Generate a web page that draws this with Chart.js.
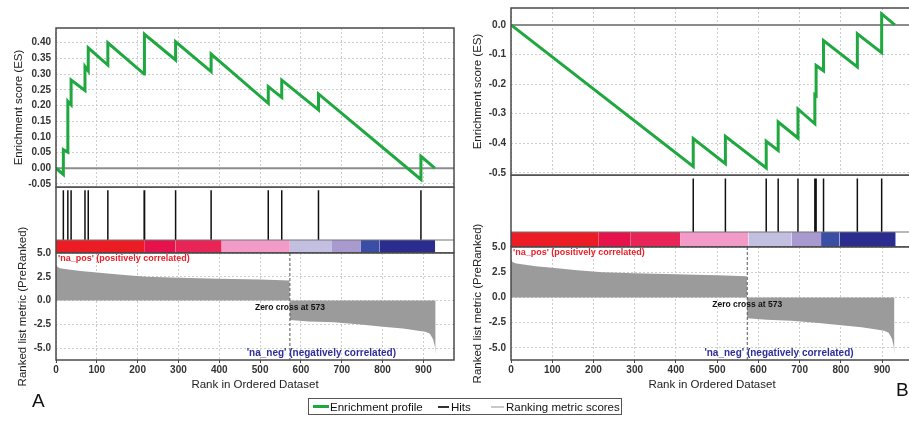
<!DOCTYPE html>
<html>
<head>
<meta charset="utf-8">
<script src="https://cdn.jsdelivr.net/npm/chart.js@4.4.1/dist/chart.umd.min.js"></script>
<style>
  body { margin: 0; background: #fff; overflow: hidden; }
  #page { position: relative; width: 909px; height: 422px; overflow: hidden; font-family: "Liberation Sans", Arial, sans-serif; color: #111; }
  .box { position: absolute; }
  .lbl { position: absolute; font-size: 19px; }
  #legend { position: absolute; left: 308px; top: 398px; width: 314px; height: 17px; border: 1px solid #555; box-sizing: border-box; font-size: 11.5px; white-space: nowrap; }
  #legend span { position: absolute; top: 1px; line-height: 14px; }
  #legend i { position: absolute; top: 7px; height: 2px; }
</style>
</head>
<body>
<div id="page">
  <div class="box" style="left:6px;top:26px;width:450px;height:169px"><canvas id="esA"></canvas></div>
  <div class="box" style="left:6px;top:187px;width:450px;height:66px"><canvas id="hitsA"></canvas></div>
  <div class="box" style="left:6px;top:213px;width:450px;height:182px"><canvas id="metA"></canvas></div>

  <div class="box" style="left:461px;top:6px;width:454px;height:177px"><canvas id="esB"></canvas></div>
  <div class="box" style="left:461px;top:175px;width:454px;height:72px"><canvas id="hitsB"></canvas></div>
  <div class="box" style="left:461px;top:207px;width:454px;height:188px"><canvas id="metB"></canvas></div>

  <div class="lbl" style="left:32px;top:390px">A</div>
  <div class="lbl" style="left:896px;top:379px">B</div>

  <div id="legend">
    <i style="left:4px;width:16px;height:3px;top:6px;background:#1fa83f"></i><span style="left:21px">Enrichment profile</span>
    <i style="left:129px;width:11px;background:#333"></i><span style="left:142px">Hits</span>
    <i style="left:182px;width:13px;background:#c8c8c8"></i><span style="left:197px">Ranking metric scores</span>
  </div>
</div>

<script>
// panel A enrichment profile (rank, ES)
const esRankA = [0, 18, 18, 29, 29, 37, 37, 71, 71, 79, 79, 127, 127, 216, 216, 217, 217, 293, 293, 380, 380, 520, 520, 553, 553, 643, 643, 894, 894, 928];
const esValA = [0, -0.02, 0.059, 0.051, 0.213, 0.202, 0.281, 0.248, 0.324, 0.31, 0.384, 0.329, 0.40, 0.30, 0.361, 0.358, 0.427, 0.345, 0.403, 0.308, 0.364, 0.207, 0.26, 0.226, 0.281, 0.186, 0.237, -0.036, 0.038, 0];
const hitsA = [18, 29, 37, 71, 79, 127, 216, 217, 293, 380, 520, 553, 643, 894];

// panel B enrichment profile (rank, ES)
const esRankB = [0, 442, 442, 520, 520, 619, 619, 648, 648, 696, 696, 737, 737, 740, 740, 758, 758, 840, 840, 899, 899, 931];
const esValB = [0, -0.478, -0.384, -0.469, -0.376, -0.483, -0.393, -0.424, -0.328, -0.382, -0.284, -0.334, -0.236, -0.239, -0.137, -0.155, -0.053, -0.142, -0.03, -0.094, 0.037, 0];
const hitsB = [442, 520, 619, 648, 696, 737, 740, 758, 840, 899];

// colour bar segments (rank edges) and colours
const segA = [0, 216, 293, 406, 573, 676, 747, 792, 929];
const segB = [0, 213, 289, 410, 576, 681, 752, 797, 933];
const segColors = ["#ec1c24", "#e5124c", "#e92557", "#f29bc8", "#c3bfe1", "#a899cf", "#3a4ea6", "#2b2d8e"];

// ranked list metric (same ranked list in both panels)
const metricRank = [0, 3, 10, 26, 60, 100, 160, 222, 300, 400, 500, 572, 573, 620, 680, 740, 801, 850, 883, 905, 916, 924, 928, 930];
const metricVal = [3.75, 3.55, 3.4, 3.3, 3.1, 2.95, 2.7, 2.5, 2.4, 2.3, 2.2, 2.1, -2.05, -2.2, -2.3, -2.5, -2.75, -2.95, -3.15, -3.3, -3.5, -4.1, -4.8, -5.7];
const zeroCross = 573;

const xTicks = [0, 100, 200, 300, 400, 500, 600, 700, 800, 900];
const esTicksA = [-0.05, 0, 0.05, 0.1, 0.15, 0.2, 0.25, 0.3, 0.35, 0.4];
const esTicksB = [-0.5, -0.4, -0.3, -0.2, -0.1, 0];
const metricTicks = [-5, -2.5, 0, 2.5, 5];

const XMAX = 975;
const AXIS_W = 50;
const FONT = "'Liberation Sans', Arial, sans-serif";

Chart.defaults.font.family = FONT;
Chart.defaults.color = "#222";
Chart.defaults.animation = false;

const decor = {
    id: "decor",
    beforeDatasetsDraw(chart, args, o) {
        const { ctx, chartArea: a, scales } = chart;
        if (o.zeroLine) {
            const y = scales.y.getPixelForValue(0);
            ctx.save();
            ctx.strokeStyle = "#8c8c8c";
            ctx.lineWidth = 2;
            ctx.beginPath();
            ctx.moveTo(a.left, y);
            ctx.lineTo(a.right, y);
            ctx.stroke();
            ctx.restore();
        }
    },
    afterDraw(chart, args, o) {
        const { ctx, chartArea: a, scales } = chart;
        ctx.save();
        if (o.bandTop != null) {
            const y = scales.y.getPixelForValue(o.bandTop);
            ctx.strokeStyle = "#777";
            ctx.lineWidth = 1.2;
            ctx.beginPath();
            ctx.moveTo(a.left, y);
            ctx.lineTo(a.right, y);
            ctx.stroke();
        }
        if (o.zeroCross != null) {
            const x = scales.x.getPixelForValue(o.zeroCross);
            ctx.strokeStyle = "#555";
            ctx.lineWidth = 1;
            ctx.setLineDash([3, 2]);
            ctx.beginPath();
            ctx.moveTo(x, a.top);
            ctx.lineTo(x, a.bottom);
            ctx.stroke();
            ctx.setLineDash([]);
        }
        (o.notes || []).forEach((n) => {
            let x = n.x === "left" ? a.left + 2 : scales.x.getPixelForValue(n.x);
            let y = n.y === "top" ? a.top + 1 : n.y === "bottom" ? a.bottom : scales.y.getPixelForValue(n.y);
            y += n.dy || 0;
            ctx.font = n.font;
            ctx.fillStyle = n.color;
            ctx.textAlign = n.align || "left";
            ctx.textBaseline = n.baseline || "middle";
            ctx.fillText(n.text, x, y);
        });
        ctx.strokeStyle = "#4a4a4a";
        ctx.lineWidth = 1.5;
        ctx.strokeRect(a.left, a.top, a.right - a.left, a.bottom - a.top);
        ctx.restore();
    },
};
Chart.register(decor);

function pts(xs, ys) {
    return xs.map((x, i) => ({ x: x, y: ys[i] }));
}

function gridAxis() {
    return {
        grid: { color: "#cdcdcd", drawTicks: false },
        border: { display: false, dash: [2, 2] },
    };
}

function yAxis(min, max, ticks, digits, title, titlePad) {
    return {
        type: "linear",
        min: min,
        max: max,
        afterFit: (s) => {
            s.width = AXIS_W;
            s.paddingTop = 0;
            s.paddingBottom = 0;
        },
        afterBuildTicks: (s) => {
            s.ticks = ticks.map((v) => ({ value: v }));
        },
        ticks: {
            autoSkip: false,
            padding: 5,
            font: { size: 10, weight: "bold" },
            color: "#333",
            callback: (v) => Number(v).toFixed(digits),
        },
        title: { display: true, text: title, font: { size: 11.5 }, color: "#222", padding: { top: titlePad, bottom: 2 } },
        ...gridAxis(),
    };
}

function esChart(id, rank, val, min, max, ticks, digits, titlePad) {
    new Chart(document.getElementById(id), {
        type: "line",
        data: {
            datasets: [
                {
                    data: pts(rank, val),
                    borderColor: "#1fa83f",
                    borderWidth: 3,
                    pointRadius: 0,
                    tension: 0,
                },
            ],
        },
        options: {
            responsive: true,
            maintainAspectRatio: false,
            layout: { padding: { top: 2, right: 2, left: 0, bottom: 8 } },
            plugins: { legend: { display: false }, tooltip: { enabled: false }, decor: { zeroLine: true } },
            scales: {
                x: {
                    type: "linear",
                    min: 0,
                    max: XMAX,
                    afterFit: (s) => {
                        s.height = 0;
                        s.paddingLeft = 0;
                        s.paddingRight = 0;
                    },
                    afterBuildTicks: (s) => {
                        s.ticks = xTicks.map((v) => ({ value: v }));
                    },
                    ticks: { display: false },
                    ...gridAxis(),
                },
                y: yAxis(min, max, ticks, digits, "Enrichment score (ES)", titlePad),
            },
        },
    });
}

function hitsChart(id, hits, seg, bandTop) {
    const datasets = [];
    for (let i = 0; i < segColors.length; i++) {
        datasets.push({
            data: [
                { x: seg[i], y: bandTop },
                { x: seg[i + 1], y: bandTop },
            ],
            fill: { value: 0 },
            backgroundColor: segColors[i],
            borderWidth: 0,
            pointRadius: 0,
        });
    }
    const faint = [];
    const hitPts = [];
    hits.forEach((h) => {
        faint.push({ x: h, y: 0 }, { x: h, y: bandTop }, { x: h, y: null });
        hitPts.push({ x: h, y: bandTop }, { x: h, y: 0.95 }, { x: h, y: null });
    });
    datasets.push({ data: faint, borderColor: "rgba(0,0,0,0.18)", borderWidth: 1.2, pointRadius: 0, spanGaps: false });
    datasets.push({ data: hitPts, borderColor: "#111", borderWidth: 1.5, pointRadius: 0, spanGaps: false });

    new Chart(document.getElementById(id), {
        type: "line",
        data: { datasets: datasets },
        options: {
            responsive: true,
            maintainAspectRatio: false,
            layout: { padding: { top: 0, right: 2, left: AXIS_W, bottom: 0 } },
            plugins: { legend: { display: false }, tooltip: { enabled: false }, decor: { bandTop: bandTop } },
            scales: {
                x: { type: "linear", min: 0, max: XMAX, display: false },
                y: { type: "linear", min: 0, max: 1, display: false },
            },
        },
    });
}

function metricChart(id, min, max, titlePad) {
    new Chart(document.getElementById(id), {
        type: "line",
        data: {
            datasets: [
                {
                    data: pts(metricRank, metricVal),
                    fill: "origin",
                    backgroundColor: "#9b9b9b",
                    borderWidth: 0,
                    pointRadius: 0,
                    tension: 0,
                },
            ],
        },
        options: {
            responsive: true,
            maintainAspectRatio: false,
            layout: { padding: { top: 40, right: 2, left: 0, bottom: 0 } },
            plugins: {
                legend: { display: false },
                tooltip: { enabled: false },
                decor: {
                    zeroCross: zeroCross,
                    notes: [
                        { text: "'na_pos' (positively correlated)", x: "left", y: "top", baseline: "top", color: "#e8202a", font: "bold 9px " + FONT },
                        { text: "Zero cross at " + zeroCross, x: zeroCross, y: 0, dy: 7, align: "center", color: "#111", font: "bold 8.5px " + FONT },
                        { text: "'na_neg' (negatively correlated)", x: 650, y: "bottom", dy: -7, align: "center", color: "#2e2e9a", font: "bold 10px " + FONT },
                    ],
                },
            },
            scales: {
                x: {
                    type: "linear",
                    min: 0,
                    max: XMAX,
                    afterFit: (s) => {
                        s.height = 35;
                        s.paddingLeft = 0;
                        s.paddingRight = 0;
                    },
                    afterBuildTicks: (s) => {
                        s.ticks = xTicks.map((v) => ({ value: v }));
                    },
                    ticks: { autoSkip: false, maxRotation: 0, padding: 1, font: { size: 10, weight: "bold" }, color: "#333" },
                    title: { display: true, text: "Rank in Ordered Dataset", font: { size: 11.5 }, color: "#222", padding: { top: 0, bottom: 3 } },
                    grid: { color: "#cdcdcd", drawTicks: true, tickLength: 3, tickColor: "#444" },
                    border: { display: false, dash: [2, 2] },
                },
                y: yAxis(min, max, metricTicks, 1, "Ranked list metric (PreRanked)", titlePad),
            },
        },
    });
}

esChart("esA", esRankA, esValA, -0.06, 0.447, esTicksA, 2, 6);
hitsChart("hitsA", hitsA, segA, 13 / 66);
metricChart("metA", -6.26, 5.0, 10);

esChart("esB", esRankB, esValB, -0.507, 0.057, esTicksB, 1, 10);
hitsChart("hitsB", hitsB, segB, 15 / 72);
metricChart("metB", -6.2, 5.0, 10);
</script>
</body>
</html>
